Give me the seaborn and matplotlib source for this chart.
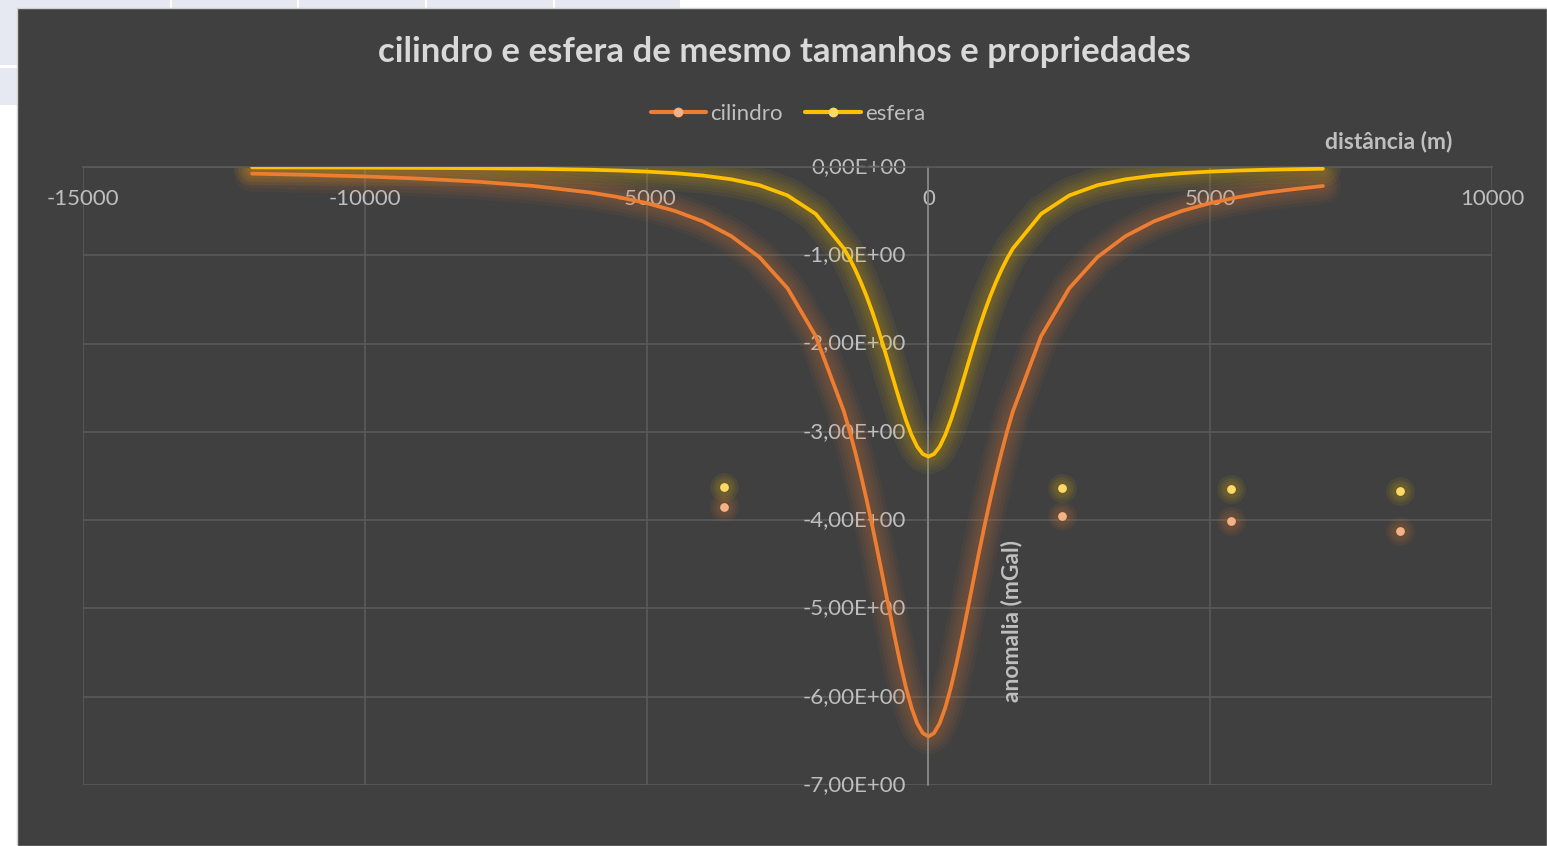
import matplotlib
matplotlib.use('Agg')
import matplotlib.pyplot as plt
from matplotlib.lines import Line2D
from matplotlib.patches import Rectangle
import seaborn as sns
import pandas as pd
import numpy as np

# distância (m) and anomalia (mGal)
dist = [-12000, -11000, -10000, -9000, -8000, -7000, -6000, -5500, -5000, -4500,
        -4000, -3500, -3000, -2500, -2000, -1500, -1400, -1300, -1200, -1100,
        -1000, -900, -800, -700, -600, -500, -400, -300, -200, -100,
        0, 100, 200, 300, 400, 500, 600, 700, 800, 900,
        1000, 1100, 1200, 1300, 1400, 1500, 2000, 2500, 3000, 3500,
        4000, 4500, 5000, 5500, 6000, 6500, 7000]
cilindro = [-0.075, -0.089, -0.107, -0.132, -0.166, -0.215, -0.289, -0.341, -0.409, -0.497,
            -0.616, -0.782, -1.020, -1.373, -1.916, -2.767, -2.986, -3.225, -3.483, -3.759,
            -4.052, -4.360, -4.678, -5.000, -5.317, -5.619, -5.892, -6.124, -6.301, -6.412,
            -6.450, -6.412, -6.301, -6.124, -5.892, -5.619, -5.317, -5.000, -4.678, -4.360,
            -4.052, -3.759, -3.483, -3.225, -2.986, -2.767, -1.916, -1.373, -1.020, -0.782,
            -0.616, -0.497, -0.409, -0.341, -0.289, -0.250, -0.215]
esfera = [-0.004, -0.005, -0.007, -0.010, -0.014, -0.020, -0.031, -0.040, -0.052, -0.070,
          -0.097, -0.139, -0.206, -0.322, -0.531, -0.922, -1.033, -1.160, -1.302, -1.459,
          -1.633, -1.823, -2.026, -2.239, -2.455, -2.667, -2.864, -3.034, -3.167, -3.251,
          -3.280, -3.251, -3.167, -3.034, -2.864, -2.667, -2.455, -2.239, -2.026, -1.823,
          -1.633, -1.459, -1.302, -1.160, -1.033, -0.922, -0.531, -0.322, -0.206, -0.139,
          -0.097, -0.070, -0.052, -0.040, -0.031, -0.025, -0.020]

# loose points of the two series
pts_dist = [-3630, 2370, 5370, 8370]
pts_cilindro = [-3.85, -3.95, -4.01, -4.12]
pts_esfera = [-3.63, -3.64, -3.65, -3.67]

x_ticks = [-15000, -10000, -5000, 0, 5000, 10000]
y_ticks = [-7, -6, -5, -4, -3, -2, -1, 0]

orange, yellow = '#ED7D31', '#FFC000'
orange_mk, yellow_mk = '#F4B183', '#FFD966'
bg = '#404040'
txt = '#BFBFBF'

sns.set_theme(style='dark')
plt.rcParams['font.family'] = ['Lato', 'DejaVu Sans']

df = pd.DataFrame({'dist': dist, 'cilindro': cilindro, 'esfera': esfera})
pts = pd.DataFrame({'dist': pts_dist, 'cilindro': pts_cilindro, 'esfera': pts_esfera})

fig = plt.figure(figsize=(15.47, 8.46), dpi=100, facecolor='white')

# spreadsheet background around the chart
W, H = 1547, 846
def fig_rect(x0, y0, w, h, color, **kw):
    fig.patches.append(Rectangle((x0 / W, 1 - (y0 + h) / H), w / W, h / H,
                                 transform=fig.transFigure, facecolor=color,
                                 edgecolor=kw.get('ec', 'none'), lw=kw.get('lw', 0),
                                 zorder=-5))

fig_rect(0, 0, 680, 8, '#E6E9F2')
for sx in [170, 297, 425, 553]:
    fig_rect(sx, 0, 2, 8, 'white')
fig_rect(0, 0, 17, 105, '#E6E9F2')
fig_rect(0, 65, 17, 3, 'white')
fig_rect(17, 8, W - 17, H - 8, bg, ec='#D0D0D0', lw=1)

ax = fig.add_axes([83 / W, 1 - 785 / H, (1492 - 83) / W, (785 - 167) / H])
ax.set_zorder(2)
ax.set_facecolor(bg)

# soft glow behind the lines and loose points
for col, c in [('cilindro', orange), ('esfera', yellow)]:
    for lw in [26, 21, 16, 12, 8]:
        ax.plot(df['dist'], df[col], color=c, lw=lw, alpha=0.055,
                solid_capstyle='round', solid_joinstyle='round', zorder=2)
    for s in [420, 260, 150]:
        ax.scatter(pts['dist'], pts[col], s=s, color=c, alpha=0.08, lw=0, zorder=2)

sns.lineplot(data=df, x='dist', y='cilindro', color=orange, lw=2.7, ax=ax, zorder=4,
             estimator=None, sort=False)
sns.lineplot(data=df, x='dist', y='esfera', color=yellow, lw=2.7, ax=ax, zorder=4,
             estimator=None, sort=False)
sns.scatterplot(data=pts, x='dist', y='cilindro', color=orange_mk, s=40, lw=0, ax=ax, zorder=5)
sns.scatterplot(data=pts, x='dist', y='esfera', color=yellow_mk, s=40, lw=0, ax=ax, zorder=5)

ax.set_xlim(-15000, 10000)
ax.set_ylim(-7, 0)
ax.set_xticks(x_ticks)
ax.set_yticks(y_ticks)
ax.set_xticklabels([str(v) for v in x_ticks])
ax.set_yticklabels([f'{v:.2E}'.replace('.', ',') for v in y_ticks])
ax.grid(True, color='#5A5A5A', lw=1.2)
ax.set_axisbelow(True)

for s in ['top', 'right']:
    ax.spines[s].set_visible(False)
ax.spines['left'].set_position(('data', 0))
ax.spines['left'].set_color('#8A8A8A')
ax.spines['left'].set_linewidth(1.2)
ax.spines['bottom'].set_position(('data', 0))
ax.spines['bottom'].set_color('#5A5A5A')
ax.spines['bottom'].set_linewidth(1.2)
ax.tick_params(axis='x', length=0, pad=16, labelsize=16, labelcolor=txt)
ax.tick_params(axis='y', length=0, pad=16, labelsize=16, labelcolor=txt)
for lab in ax.get_yticklabels():
    lab.set_verticalalignment('center')
for lab in ax.get_xticklabels() + ax.get_yticklabels():
    lab.set_zorder(6)
ax.set_xlabel('')
ax.set_ylabel('')

fig.text(1389 / W, 1 - 142 / H, 'distância (m)', color=txt, fontsize=16.5,
         fontweight='bold', ha='center', va='center')
fig.text(1012 / W, 1 - 621 / H, 'anomalia (mGal)', color=txt, fontsize=16.5,
         fontweight='bold', ha='center', va='center', rotation=90, zorder=10)
fig.text(784 / W, 1 - 52 / H, 'cilindro e esfera de mesmo tamanhos e propriedades',
         color='#D9D9D9', fontsize=25, fontweight='bold', ha='center', va='center')

handles = [Line2D([], [], color=orange, lw=3, marker='o', ms=6, mfc=orange_mk, mec=orange_mk),
           Line2D([], [], color=yellow, lw=3, marker='o', ms=6, mfc=yellow_mk, mec=yellow_mk)]
fig.legend(handles, ['cilindro', 'esfera'], loc='center', ncol=2, frameon=False,
           bbox_to_anchor=(788 / W, 1 - 114 / H), fontsize=16, labelcolor=txt,
           handlelength=2.5, handletextpad=0.2, columnspacing=1.0)

fig.savefig('out.png', dpi=100, facecolor=fig.get_facecolor())
